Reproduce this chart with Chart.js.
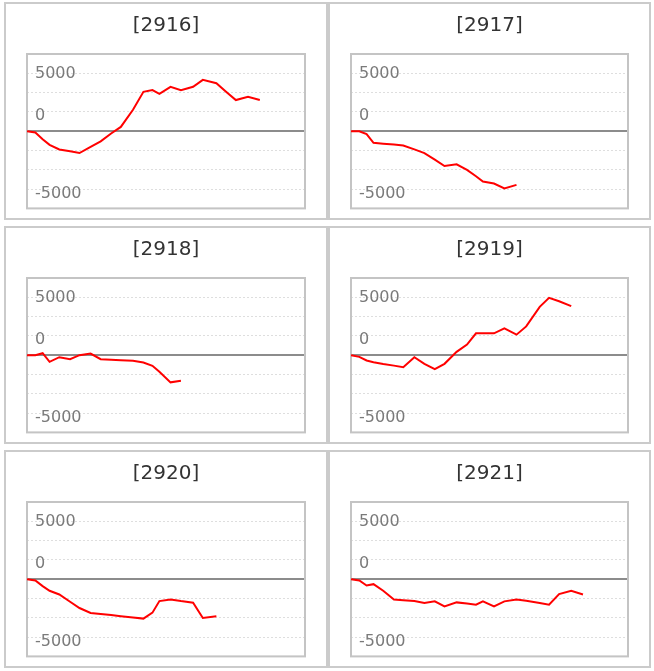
<!DOCTYPE html>
<html><head><meta charset="utf-8">
<script src="https://cdn.jsdelivr.net/npm/chart.js@4.4.0/dist/chart.umd.min.js"></script>
<style>
html,body{margin:0;padding:0;background:#fff;}
body{width:654px;height:671px;position:relative;overflow:hidden;}
.panel{position:absolute;border:2px solid #cbcbcb;box-sizing:border-box;background:#fff;}
.panel canvas{display:block;}
</style></head><body>
<div id="wrap"></div>
<script>
// ---- data ----
const codes = ['2916', '2917', '2918', '2919', '2920', '2921'];
const days = [0, 2.4, 4.5, 6.5, 9.3, 12.4, 15.1, 18.3, 21.2, 24.2, 27.0, 30.5, 33.5, 36.1, 38.1, 41.3, 44.3, 47.8, 50.6, 54.5, 57.2, 60.1, 63.6, 67.0];
const s2916 = [0, -110, -690, -1180, -1573, -1740, -1888, -1360, -880, -200, 370, 1850, 3403, 3546, 3232, 3832, 3546, 3832, 4433, 4147, 3432, 2688, 2974, 2688];
const s2917 = [0, 0, -257, -1000, -1080, -1155, -1230, -1570, -1888, -2450, -3003, -2860, -3346, -3890, -4347, -4519, -4948, -4633];
const s2918 = [0, 0, 170, -570, -170, -340, 0, 143, -343, -387, -430, -486, -629, -915, -1430, -2345, -2202];
const s2919 = [0, -143, -457, -600, -760, -900, -1030, -172, -744, -1201, -744, 286, 915, 1888, 1888, 1888, 2316, 1773, 2488, 4175, 4948, 4662, 4233];
const s2920 = [0, -114, -600, -1001, -1316, -1945, -2488, -2917, -3010, -3100, -3190, -3300, -3403, -2889, -1888, -1745, -1890, -2030, -3346, -3203];
const s2921 = [0, -114, -543, -429, -1001, -1745, -1810, -1888, -2059, -1916, -2345, -2002, -2100, -2202, -1916, -2345, -1916, -1745, -1870, -2050, -2202, -1287, -1001, -1316];
const seriesList = [s2916, s2917, s2918, s2919, s2920, s2921];
const xMax = 80;
const yStep = 5000 / 3;
const yGridValues = [-4, -3, -2, -1, 0, 1, 2, 3, 4].map(k => k * yStep);
// tick labels as printed on the reference, and the value level where each one sits
const yTickLabels = ['-5000', '0', '5000'];
const yTickLevels = [-5200, 1500, 5150];

// ---- layout ----
const boxes = [
  {left: 4, top: 2, w: 324, h: 218}, {left: 328, top: 2, w: 323, h: 218},
  {left: 4, top: 226, w: 324, h: 218}, {left: 328, top: 226, w: 323, h: 218},
  {left: 4, top: 450, w: 324, h: 218}, {left: 328, top: 450, w: 323, h: 218}
];

const plotBorder = {
  id: 'plotBorder',
  beforeDatasetsDraw(chart) {
    const a = chart.chartArea, c = chart.ctx;
    c.save();
    c.strokeStyle = '#c4c4c4';
    c.lineWidth = 2;
    c.strokeRect(a.left, a.top, a.right - a.left, a.bottom - a.top);
    c.restore();
  }
};

const wrap = document.getElementById('wrap');
codes.forEach((code, i) => {
  const b = boxes[i];
  const div = document.createElement('div');
  div.className = 'panel';
  div.style.left = b.left + 'px'; div.style.top = b.top + 'px';
  div.style.width = b.w + 'px'; div.style.height = b.h + 'px';
  const cv = document.createElement('canvas');
  const cw = b.w - 4, ch = b.h - 4;
  cv.width = cw; cv.height = ch;
  cv.style.width = cw + 'px'; cv.style.height = ch + 'px';
  div.appendChild(cv);
  wrap.appendChild(div);
  const vals = seriesList[i];
  new Chart(cv, {
    type: 'line',
    data: {
      datasets: [{
        data: vals.map((v, j) => ({x: days[j], y: v})),
        borderColor: '#ff0000',
        borderWidth: 2,
        pointRadius: 0,
        tension: 0,
        fill: false,
        yAxisID: 'y'
      }]
    },
    options: {
      responsive: false,
      animation: false,
      devicePixelRatio: 1,
      layout: {padding: {left: 0, right: 0, top: 0, bottom: 9}},
      plugins: {
        legend: {display: false},
        tooltip: {enabled: false},
        title: {
          display: true,
          text: '[' + code + ']',
          color: '#333333',
          font: {family: 'DejaVu Sans', size: 20, weight: 'normal', lineHeight: 1.2},
          padding: {top: 10, bottom: 16}
        }
      },
      scales: {
        x: {type: 'linear', min: 0, max: xMax, display: false},
        y: {
          type: 'linear',
          position: 'left',
          min: yGridValues[0],
          max: yGridValues[yGridValues.length - 1],
          afterBuildTicks: (s) => { s.ticks = yGridValues.map(v => ({value: v})); },
          afterFit: (s) => { s.width = 0; },
          ticks: {display: false, autoSkip: false},
          grid: {
            drawTicks: false,
            color: (ctx) => (ctx.tick && ctx.tick.value === 0) ? '#8c8c8c' : '#dedede',
            lineWidth: (ctx) => (ctx.tick && ctx.tick.value === 0) ? 2 : 1
          },
          border: {
            display: false,
            dash: (ctx) => (ctx.tick && ctx.tick.value === 0) ? [] : [2, 2]
          }
        },
        yl: {
          type: 'linear',
          position: 'left',
          min: yGridValues[0],
          max: yGridValues[yGridValues.length - 1],
          afterBuildTicks: (s) => { s.ticks = yTickLevels.map(v => ({value: v})); },
          afterFit: (s) => { s.width = 21; },
          ticks: {
            mirror: true,
            padding: 8,
            labelOffset: 2,
            autoSkip: false,
            color: '#7a7a7a',
            font: {family: 'DejaVu Sans', size: 16, lineHeight: 0.2},
            callback: (v, idx) => yTickLabels[idx]
          },
          grid: {display: false, drawTicks: false},
          border: {display: false}
        },
        yr: {
          type: 'linear',
          position: 'right',
          min: yGridValues[0],
          max: yGridValues[yGridValues.length - 1],
          afterFit: (s) => { s.width = 21; },
          ticks: {display: false},
          grid: {display: false, drawTicks: false},
          border: {display: false}
        }
      }
    },
    plugins: [plotBorder]
  });
});
</script>
</body></html>
